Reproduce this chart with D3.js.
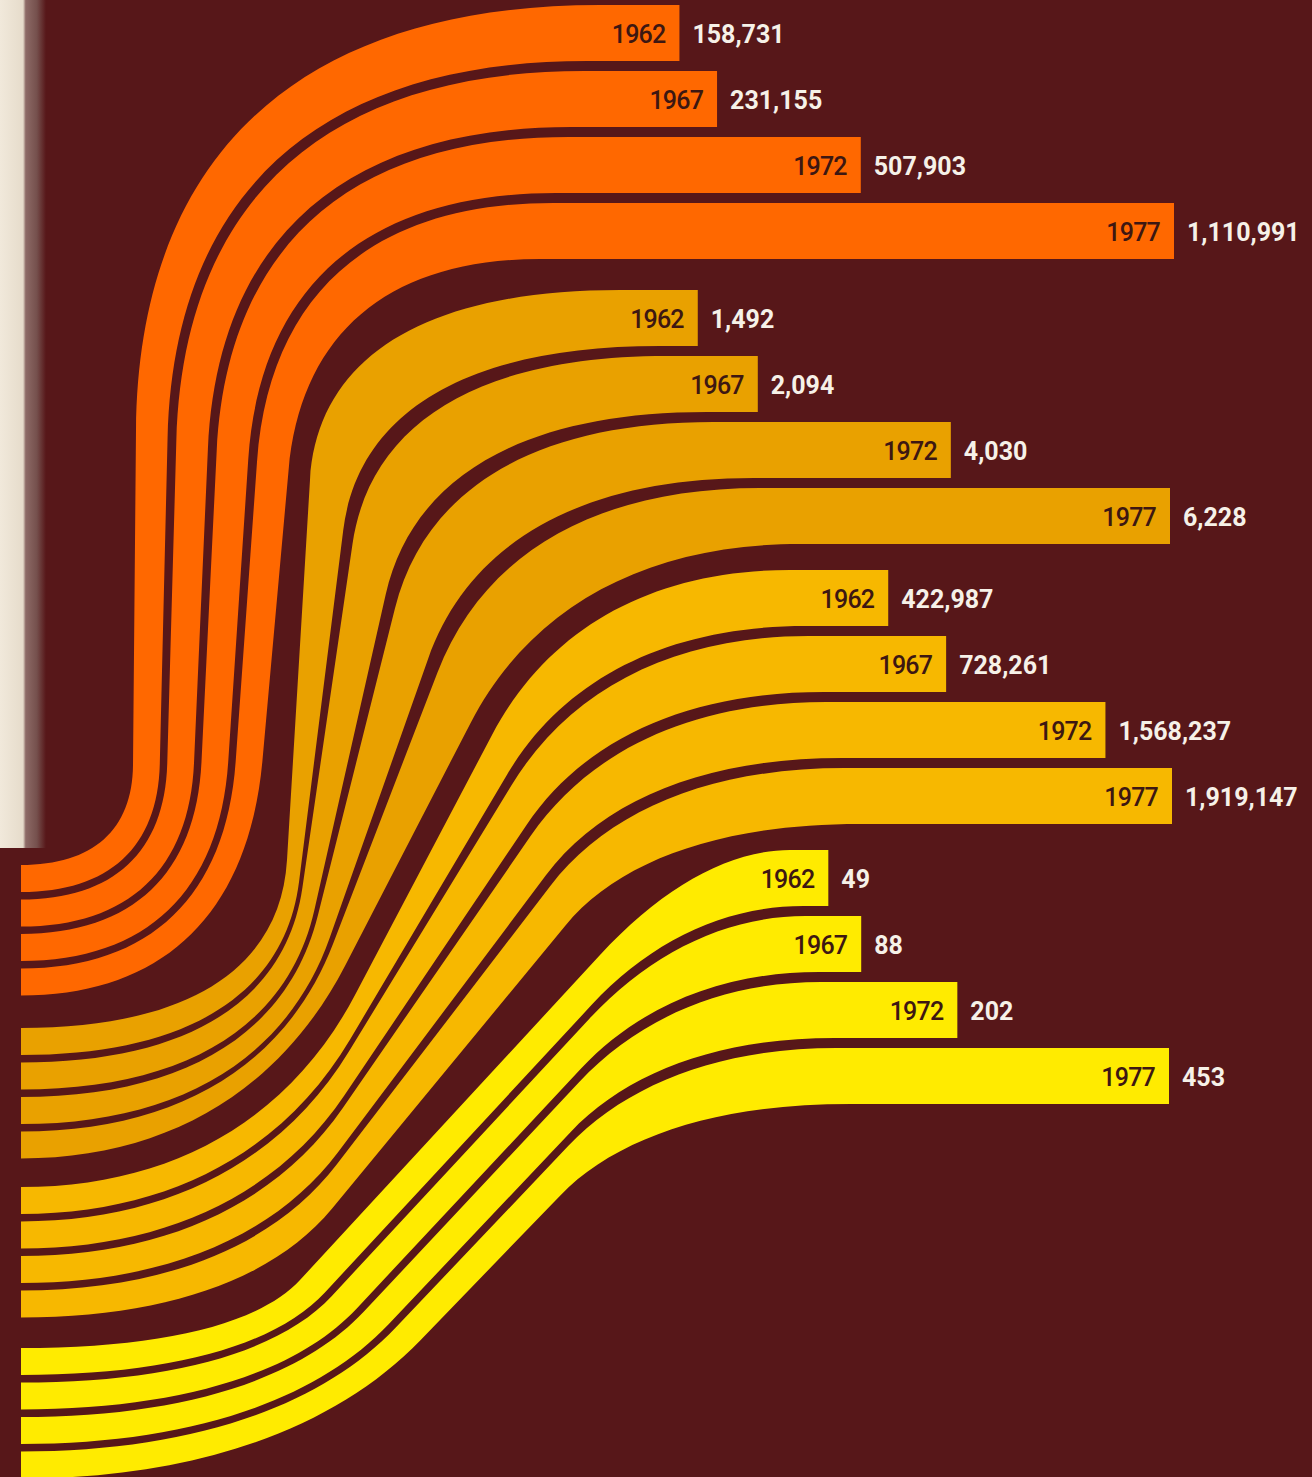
<!DOCTYPE html>
<html>
<head>
<meta charset="utf-8">
<script src="https://cdn.jsdelivr.net/npm/d3@7"></script>
<style>
  html, body { margin: 0; padding: 0; background: #571719; }
  svg { display: block; }
</style>
</head>
<body>
<div id="chart"></div>
<script>
// ---------------- data ----------------
const years = ["1962", "1967", "1972", "1977"];
const groupA = [158731, 231155, 507903, 1110991];
const groupB = [1492, 2094, 4030, 6228];
const groupC = [422987, 728261, 1568237, 1919147];
const groupD = [49, 88, 202, 453];
const series = [groupA, groupB, groupC, groupD];

// ---------------- style / layout ----------------
const W = 1312, H = 1477;
const bg = "#571719";
const colors = ["#ff6800", "#e9a100", "#f7b800", "#ffeb00"];
const leftX = 21;
const leftTop = [865, 1028, 1187, 1348];
const rightTop = [5, 290, 570, 850];
const leftPitch = 34.5, leftBand = 27, leftSpan = 130;
const rightPitch = 66, rightBand = 56, rightSpan = 254;
// bar length scale range per group
const barRange = [[597, 1174], [549, 1170], [808, 1172], [787, 1169]];
// guide key points (outer edge of first band / inner edge of last band)
const guides = [
  { outer: { A: [133, 765], B: [136, 430], Cx: 600 }, inner: { A: [262, 760], B: [288, 470], Cx: 540 } },
  { outer: { A: [287, 860], B: [310, 480], Cx: 620 }, inner: { A: [345, 965], B: [470, 722], Cx: 800 } },
  { outer: { A: [355, 995], B: [492, 735], Cx: 790 }, inner: { A: [332, 1208], B: [565, 925], Cx: 860 } },
  { outer: { A: [300, 1280], B: [600, 955], Cx: 790 }, inner: { A: [420, 1340], B: [560, 1195], Cx: 850 } }
];
const sq = 0.65;

const svg = d3.select("#chart").append("svg").attr("width", W).attr("height", H);
svg.append("rect").attr("width", W).attr("height", H).attr("fill", bg);

// page edge strip
const defs = svg.append("defs");
const lg = defs.append("linearGradient").attr("id", "edge").attr("x1", "0").attr("x2", "1");
lg.append("stop").attr("offset", "0").attr("stop-color", "#f1e9db");
lg.append("stop").attr("offset", "0.5").attr("stop-color", "#e6dccb");
lg.append("stop").attr("offset", "0.56").attr("stop-color", "#8d6a66");
lg.append("stop").attr("offset", "0.8").attr("stop-color", "#75504d");
lg.append("stop").attr("offset", "1").attr("stop-color", bg);
svg.append("rect").attr("x", 0).attr("y", 0).attr("width", 46).attr("height", 848).attr("fill", "url(#edge)");

const lerp = (a, b, t) => a + (b - a) * t;
const lerpP = (p, q, t) => [lerp(p[0], q[0], t), lerp(p[1], q[1], t)];
function unit(p, q) { const dx = q[0] - p[0], dy = q[1] - p[1], l = Math.hypot(dx, dy); return [dx / l, dy / l]; }

// edge key points for fraction fl (left/middle) and fr (right) across a group
function edgeKeys(g, fl, fr) {
  const o = guides[g].outer, n = guides[g].inner;
  const P0 = [leftX, leftTop[g] + fl * leftSpan];
  const A = lerpP(o.A, n.A, fl);
  const B = lerpP(o.B, n.B, fl);
  const C = [lerp(o.Cx, n.Cx, fr), rightTop[g] + fr * rightSpan];
  return { P0, A, B, C, u: unit(A, B) };
}

function corner(path, P, dP, Q, dQ) {
  const dx = Q[0] - P[0], dy = Q[1] - P[1];
  const det = dP[0] * dQ[1] - dQ[0] * dP[1];
  let X;
  if (Math.abs(det) < 1e-6) { X = [(P[0] + Q[0]) / 2, (P[1] + Q[1]) / 2]; }
  else {
    const a = (dx * dQ[1] - dQ[0] * dy) / det;
    X = [P[0] + a * dP[0], P[1] + a * dP[1]];
  }
  const c1 = [P[0] + sq * (X[0] - P[0]), P[1] + sq * (X[1] - P[1])];
  const c2 = [Q[0] + sq * (X[0] - Q[0]), Q[1] + sq * (X[1] - Q[1])];
  path.bezierCurveTo(c1[0], c1[1], c2[0], c2[1], Q[0], Q[1]);
}

const fmt = d3.format(",");
const gBands = svg.append("g");
const gText = svg.append("g");

series.forEach((vals, g) => {
  const x = d3.scaleLinear().domain([0, d3.max(vals)]).range(barRange[g]);
  vals.forEach((v, i) => {
    const flT = (i * leftPitch) / leftSpan, flB = (i * leftPitch + leftBand) / leftSpan;
    const frT = (i * rightPitch) / rightSpan, frB = (i * rightPitch + rightBand) / rightSpan;
    const t = edgeKeys(g, flT, frT), b = edgeKeys(g, flB, frB);
    const xe = x(v);
    const p = d3.path();
    p.moveTo(t.P0[0], t.P0[1]);
    corner(p, t.P0, [1, 0], t.A, t.u);
    p.lineTo(t.B[0], t.B[1]);
    corner(p, t.B, t.u, t.C, [1, 0]);
    p.lineTo(xe, t.C[1]);
    p.lineTo(xe, b.C[1]);
    p.lineTo(b.C[0], b.C[1]);
    const nu = [-b.u[0], -b.u[1]];
    corner(p, b.C, [-1, 0], b.B, nu);
    p.lineTo(b.A[0], b.A[1]);
    corner(p, b.A, nu, b.P0, [-1, 0]);
    p.closePath();
    gBands.append("path").attr("d", p.toString()).attr("fill", colors[g]);

    const yc = (t.C[1] + b.C[1]) / 2 + 1;
    gText.append("text")
      .attr("x", xe - 14).attr("y", yc)
      .attr("text-anchor", "end").attr("dominant-baseline", "central")
      .attr("font-family", "Roboto, 'Liberation Sans', sans-serif")
      .attr("font-weight", 500).attr("font-size", 25).attr("letter-spacing", -0.8)
      .attr("fill", "#3d1712").text(years[i]);
    gText.append("text")
      .attr("x", xe + 13).attr("y", yc)
      .attr("text-anchor", "start").attr("dominant-baseline", "central")
      .attr("font-family", "Roboto, 'Liberation Sans', sans-serif")
      .attr("font-weight", 700).attr("font-size", 25)
      .attr("fill", "#f6f1e8").text(fmt(v));
  });
});
</script>
</body>
</html>
